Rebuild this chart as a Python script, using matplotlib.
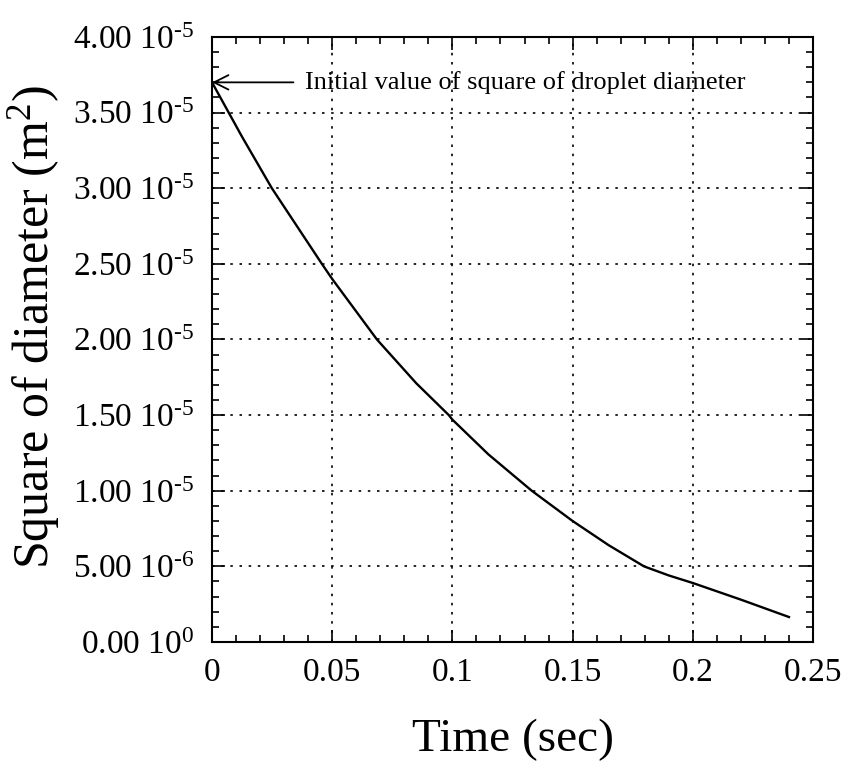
import matplotlib
matplotlib.use("Agg")
import matplotlib.pyplot as plt
from matplotlib.ticker import MultipleLocator, FixedLocator, FixedFormatter

# Data
time_s = [0.0, 0.0125, 0.0249, 0.0457, 0.05, 0.0686, 0.085, 0.0985, 0.1, 0.115,
          0.133, 0.15, 0.165, 0.1797, 0.19, 0.2, 0.22, 0.24]
d2_m2 = [3.70e-5, 3.34e-5, 3.00e-5, 2.50e-5, 2.40e-5, 2.00e-5, 1.71e-5, 1.50e-5,
         1.47e-5, 1.24e-5, 1.00e-5, 0.80e-5, 0.64e-5, 0.50e-5, 0.44e-5,
         0.39e-5, 0.28e-5, 0.165e-5]

x_ticks = [0, 0.05, 0.1, 0.15, 0.2, 0.25]
x_tick_labels = ["0", "0.05", "0.1", "0.15", "0.2", "0.25"]
y_ticks = [0, 5e-6, 1e-5, 1.5e-5, 2e-5, 2.5e-5, 3e-5, 3.5e-5, 4e-5]
y_tick_labels = ["0.00 10$^{0}$", "5.00 10$^{\u20106}$", "1.00 10$^{\u20105}$",
                 "1.50 10$^{\u20105}$", "2.00 10$^{\u20105}$", "2.50 10$^{\u20105}$",
                 "3.00 10$^{\u20105}$", "3.50 10$^{\u20105}$", "4.00 10$^{\u20105}$"]

plt.rcParams["font.family"] = ["Liberation Serif", "DejaVu Serif"]
plt.rcParams["mathtext.fontset"] = "custom"
plt.rcParams["mathtext.rm"] = "Liberation Serif"
plt.rcParams["mathtext.it"] = "Liberation Serif:italic"
plt.rcParams["mathtext.default"] = "rm"

fig = plt.figure(figsize=(8.46, 7.64), dpi=100)
ax = fig.add_axes([0.2506, 0.1597, 0.7104, 0.7919])

ax.plot(time_s, d2_m2, color="black", lw=1.7)

ax.set_xlim(0, 0.25)
ax.set_ylim(0, 4e-5)
ax.xaxis.set_major_locator(FixedLocator(x_ticks))
ax.xaxis.set_major_formatter(FixedFormatter(x_tick_labels))
ax.yaxis.set_major_locator(FixedLocator(y_ticks))
ax.yaxis.set_major_formatter(FixedFormatter(y_tick_labels))
ax.xaxis.set_minor_locator(MultipleLocator(0.01))
ax.yaxis.set_minor_locator(MultipleLocator(1e-6))

ax.tick_params(which="both", direction="in", top=True, right=True, width=1.2)
ax.tick_params(which="major", length=9, labelsize=24)
ax.tick_params(axis="y", which="major", pad=13)
ax.tick_params(axis="x", which="major", pad=11)
ax.tick_params(which="minor", length=5)

for s in ax.spines.values():
    s.set_linewidth(1.5)

ax.grid(True, which="major", color="black", linestyle=(0, (1.5, 4)), lw=1.2)

ax.set_xlabel("Time (sec)", fontsize=34)
ax.xaxis.set_label_coords(0.5, -0.127)
ax.set_ylabel("Square of diameter (m$^{2}$)", fontsize=36)
ax.yaxis.set_label_coords(-0.25, 0.52)

ax.annotate("Initial value of square of droplet diameter",
            xy=(0, 3.70e-5), xytext=(0.0385, 3.70e-5),
            fontsize=19, va="center", ha="left",
            arrowprops=dict(arrowstyle="->", color="black", lw=1.3,
                            shrinkA=6, shrinkB=0, mutation_scale=26))

fig.savefig("out.png", dpi=100)
